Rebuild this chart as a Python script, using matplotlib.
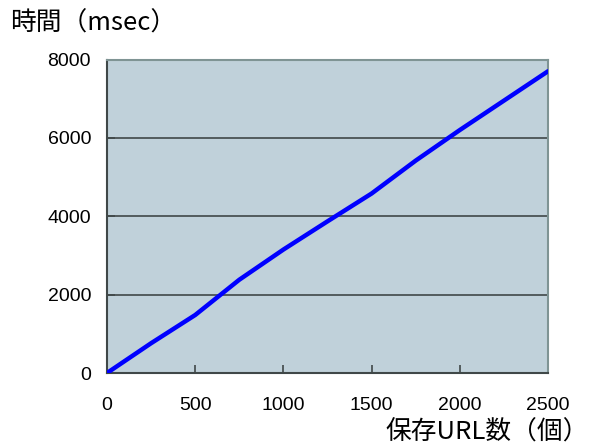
import numpy as np
import matplotlib.pyplot as plt

plt.rcParams['font.family'] = ['Liberation Sans', 'Noto Sans CJK JP', 'DejaVu Sans']

urls = [0, 250, 500, 750, 1000, 1250, 1500, 1750, 2000, 2250, 2500]
msec = [0, 760, 1480, 2380, 3150, 3870, 4580, 5420, 6200, 6950, 7700]

fig = plt.figure(figsize=(5.90, 4.47), dpi=100)
ax = fig.add_axes([107 / 590, 74 / 447, 441 / 590, 313.5 / 447])
ax.set_facecolor('#c0d1da')

ax.plot(urls, msec, color='#0000ff', lw=3.2, solid_capstyle='round', zorder=3)

ax.set_xlim(0, 2500)
ax.set_ylim(0, 8000)
ax.set_xticks([0, 500, 1000, 1500, 2000, 2500])
ax.set_yticks([0, 2000, 4000, 6000, 8000])
ax.yaxis.grid(True, color='#404848', lw=1.2)
ax.set_axisbelow(True)
ax.tick_params(direction='in', length=6, width=1.2, color='#404848',
               labelsize=14)
ax.tick_params(axis='y', pad=11.5)
ax.tick_params(axis='x', pad=17)

for s in ['left', 'bottom']:
    ax.spines[s].set_color('#404848')
    ax.spines[s].set_linewidth(1.5)
for s in ['top', 'right']:
    ax.spines[s].set_color('#7f9494')
    ax.spines[s].set_linewidth(1.5)

fig.text(10 / 590, 1 - 24 / 447, '時間（msec）', fontsize=18.5,
         family=['Noto Sans CJK JP', 'DejaVu Sans'], va='center', ha='left')
fig.text(589 / 590, 1 - 433 / 447, '保存URL数（個）', fontsize=18.5,
         family=['Noto Sans CJK JP', 'DejaVu Sans'], va='center', ha='right')

fig.savefig('out.png', dpi=100)
